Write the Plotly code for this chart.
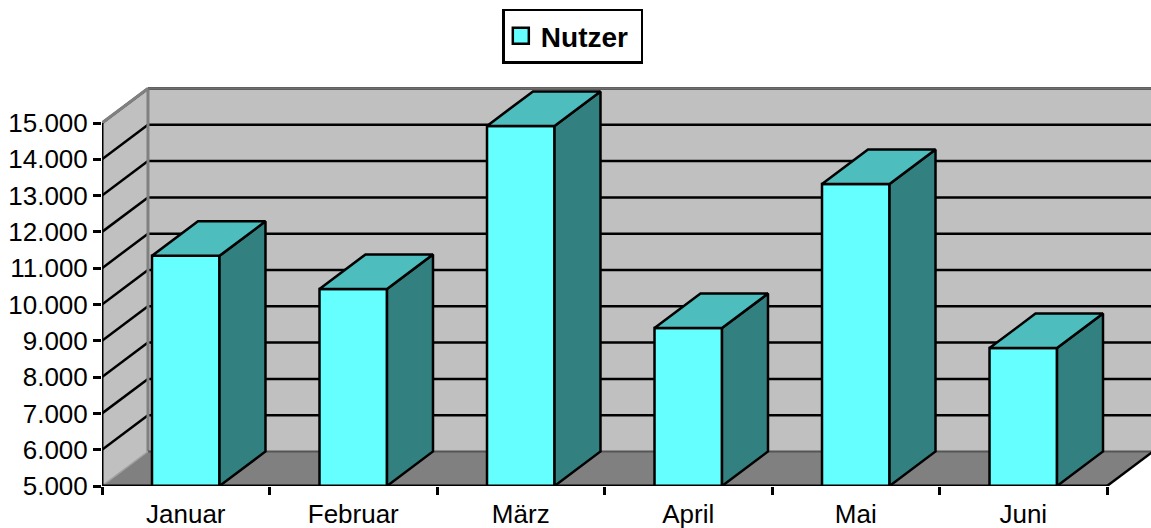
import plotly.graph_objects as go

categories = ["Januar", "Februar", "März", "April", "Mai", "Juni"]
nutzer = [11340, 10430, 14920, 9350, 13320, 8800]
y_ticks = [5000, 6000, 7000, 8000, 9000, 10000, 11000, 12000, 13000, 14000, 15000]
series_name = "Nutzer"

# Layout in pixels
W, H = 1151, 528
left, right_px, top, bottom = 101.5, 1151, 85, 486
cat_px = (1107 - 101.5) / 6
val_px = 36.3 / 1000
depth_x_px, depth_y_px = 46, 34.5
DX = depth_x_px / cat_px
DY = depth_y_px / val_px
BAR_W = 0.403

FRONT, TOP, SIDE = "#66FFFF", "#4DBDBD", "#338080"
WALL, FLOOR, EDGE = "#C0C0C0", "#808080", "#808080"
FONT = "Liberation Sans, Arial, sans-serif"

ymin = 5000
ymax = ymin + (bottom - top) / val_px
xmin = -0.5
xmax = xmin + (right_px - left) / cat_px
xr = len(categories) - 0.5
ytop = y_ticks[-1]

fig = go.Figure()

xs = list(range(len(categories)))

fig.add_trace(go.Bar(x=xs, y=nutzer, width=BAR_W, showlegend=False, name=series_name,
                     marker=dict(color=FRONT, line=dict(color="black", width=2.5))))

for i, v in zip(xs, nutzer):
    a, b = i - BAR_W / 2, i + BAR_W / 2
    fig.add_trace(go.Scatter(x=[b, b + DX, b + DX, b, b], y=[ymin, ymin + DY, v + DY, v, ymin],
                             mode="lines", fill="toself", fillcolor=SIDE,
                             line=dict(color="black", width=2.5), showlegend=False, hoverinfo="skip"))
    fig.add_trace(go.Scatter(x=[a, a + DX, b + DX, b, a], y=[v, v + DY, v + DY, v, v],
                             mode="lines", fill="toself", fillcolor=TOP,
                             line=dict(color="black", width=2.5), showlegend=False, hoverinfo="skip"))

# Legend entry: a square marker below the visible range gives a large swatch;
# the trailing no-break space widens the legend box to the reference's padding
fig.add_trace(go.Scatter(x=[0], y=[0], mode="markers", name=series_name + "\u00a0", hoverinfo="skip",
                         marker=dict(symbol="square", size=16, color=FRONT,
                                     line=dict(color="black", width=2.5))))


def poly(xv, yv, fill, line=None, w=0):
    path = "M " + " L ".join(f"{x},{y}" for x, y in zip(xv, yv)) + " Z"
    return dict(type="path", path=path, xref="x", yref="y", layer="below", fillcolor=fill,
                line=dict(color=line or fill, width=w))


def seg(x0, y0, x1, y1, color="black", w=2.5, layer="below"):
    return dict(type="line", x0=x0, y0=y0, x1=x1, y1=y1, xref="x", yref="y", layer=layer,
                line=dict(color=color, width=w))


shapes = [
    poly([xmin + DX, xr + 2 * DX, xr + 2 * DX, xmin + DX], [ymin + DY, ymin + DY, ytop + DY, ytop + DY], WALL),
    poly([xmin, xmin + DX, xmin + DX, xmin], [ymin, ymin + DY, ytop + DY, ytop], WALL),
    poly([xmin, xr, xr + DX, xmin + DX], [ymin, ymin, ymin + DY, ymin + DY], FLOOR),
]
for t in y_ticks[1:]:
    shapes.append(seg(xmin, t, xmin + DX, t + DY))
    shapes.append(seg(xmin + DX, t + DY, xr + 2 * DX, t + DY))
shapes += [
    seg(xmin + DX, ymin + DY, xmin + DX, ytop + DY, EDGE, 3),
    seg(xmin, ytop, xmin + DX, ytop + DY, EDGE, 3),
    seg(xmin + DX, ytop + DY, xr + 2 * DX, ytop + DY, "#6E6E6E", 2.5),
    seg(xmin + DX, ymin + DY, xr + DX, ymin + DY, "#555555", 2),
    seg(xmin, ymin, xmin + DX, ymin + DY, "#A0A0A0", 1.5),
    seg(xr, ymin, xr + DX, ymin + DY, "black", 2.5),
    seg(xmin, ymin, xmin, ytop, "black", 3, "above"),
    seg(xmin, ymin, xr, ymin, "black", 3, "above"),
]

fig.update_layout(
    width=W, height=H, autosize=False,
    margin=dict(l=left, r=W - right_px, t=top, b=H - bottom, pad=0, autoexpand=False),
    paper_bgcolor="white", plot_bgcolor="rgba(0,0,0,0)",
    separators=",.",
    font=dict(family=FONT, size=26, color="black"),
    barmode="overlay",
    shapes=shapes,
    showlegend=True,
    legend=dict(
        x=(502 - left) / (right_px - left), xanchor="left",
        y=(bottom - 8.5) / (bottom - top), yanchor="top",
        bgcolor="white", bordercolor="black", borderwidth=2.5,
        font=dict(family=FONT, size=28, color="black", weight="bold"),
        itemsizing="trace", indentation=-4,
    ),
    xaxis=dict(
        range=[xmin, xmax], tickmode="array", tickvals=xs, ticktext=categories,
        showgrid=False, zeroline=False, showline=False,
        ticks="outside", ticklen=5, tickcolor="rgba(0,0,0,0)", tickfont=dict(size=26),
        minor=dict(tickmode="array", tickvals=[i - 0.5 for i in range(len(categories) + 1)],
                   ticks="outside", ticklen=8, tickwidth=2.5, tickcolor="black", showgrid=False),
    ),
    yaxis=dict(
        range=[ymin, ymax], tickmode="array", tickvals=y_ticks, tickformat=",d",
        showgrid=False, zeroline=False, showline=False,
        ticks="outside", ticklen=8, tickwidth=2.5, tickcolor="black", tickfont=dict(size=26),
    ),
)

fig.write_html("out.html", config=dict(displayModeBar=False),
               post_script="document.body.style.margin='0';document.documentElement.style.overflow='hidden';")
